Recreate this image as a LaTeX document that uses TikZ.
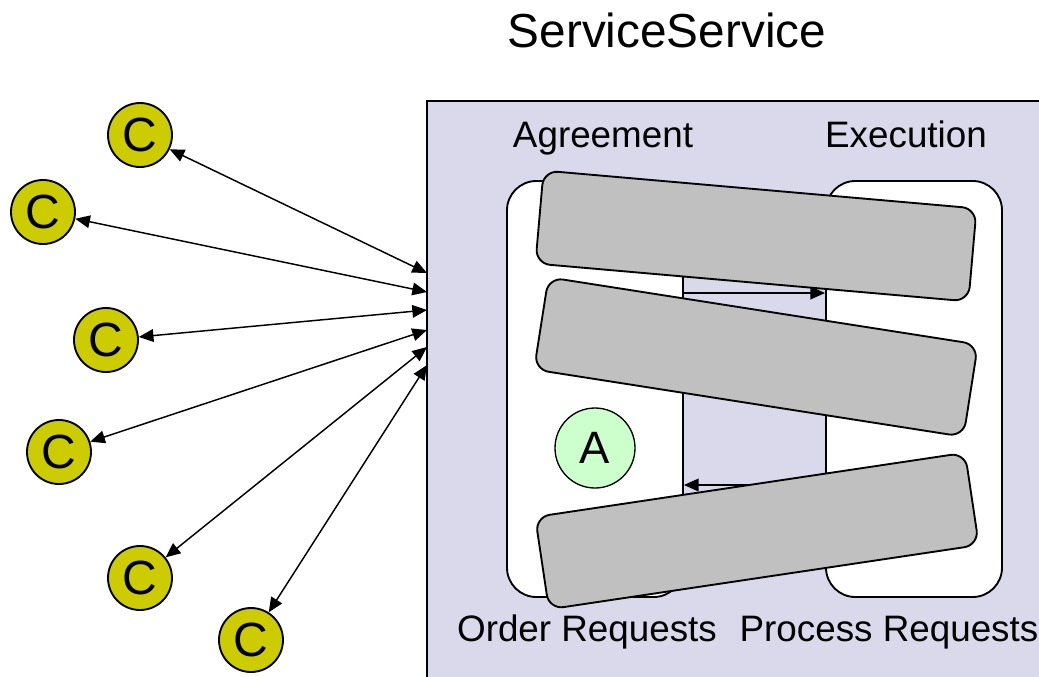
\documentclass[tikz,border=0pt]{standalone}
\usepackage{fontspec}
\setmainfont{Liberation Sans}
\usetikzlibrary{positioning, shapes, arrows.meta, calc}
\definecolor{mylav}{RGB}{217,217,235}
\definecolor{mygray}{RGB}{192,192,192}
\definecolor{myyellow}{RGB}{204,204,0}
\definecolor{mygreen}{RGB}{204,255,204}
\tikzset{
  client/.style={circle, draw, line width=1.4pt, fill=myyellow, inner sep=0,
    minimum size=48pt, font=\fontsize{36}{40}\selectfont},
  agent/.style={circle, draw, line width=1pt, fill=mygreen, inner sep=0,
    minimum size=60pt, font=\fontsize{34}{38}\selectfont},
  lane/.style={rectangle, draw, line width=1.4pt, fill=white, rounded corners=22pt,
    minimum width=132pt, minimum height=312pt},
  slab/.style={rectangle, draw, line width=1.4pt, fill=mygray, rounded corners=11pt,
    minimum width=326pt, minimum height=70pt},
  caption/.style={inner sep=0, anchor=base, font=\fontsize{27.6}{30}\selectfont},
  tip/.style={Triangle[length=11pt,width=9.5pt]},
  link/.style={{Triangle[length=11pt,width=9.5pt]}-{Triangle[length=11pt,width=9.5pt]}, line width=1.1pt}
}
\begin{document}
\begin{tikzpicture}[x=0.75pt, y=-0.75pt]
\clip (0,0) rectangle (1039,676);

\node [inner sep=0, anchor=base, font=\fontsize{35.8}{40}\selectfont] (title) at (667,47) {ServiceService};

\draw[line width=1.4pt, fill=mylav] (427,101) rectangle (1080,720);

\node [caption] (agree) at (603,147) {Agreement};
\node [caption] (exec) at (906,147) {Execution};

\node [lane] (agreeBox) at (595,389) {};
\node [lane] (execBox) at (914,389) {};

\draw[-{Triangle[length=11pt,width=9.5pt]}, line width=1.1pt] ([yshift=72pt]agreeBox.east) -- ([yshift=72pt]execBox.west);
\draw[-{Triangle[length=11pt,width=9.5pt]}, line width=1.1pt] ([yshift=-72pt]execBox.west) -- ([yshift=-72pt]agreeBox.east);

\node [agent] (a) at (595,448) {A};

\node [slab, rotate=-5] (slab1) at (756,236) {};
\node [slab, rotate=-8.9] (slab2) at (756,357) {};
\node [slab, rotate=8.5] (slab3) at (757,531) {};

\node [caption] (order) at (587,641) {Order Requests};
\node [caption] (process) at (889,641) {Process Requests};

% clients
\node [client] (c1) at (140,135) {C};
\node [client] (c2) at (43,212) {C};
\node [client] (c3) at (106,340) {C};
\node [client] (c4) at (59,452) {C};
\node [client] (c5) at (140,578) {C};
\node [client] (c6) at (251,640) {C};

\coordinate (p1) at (427,273);
\coordinate (p2) at (427,292);
\coordinate (p3) at (427,310);
\coordinate (p4) at (427,330);
\coordinate (p5) at (427,347);
\coordinate (p6) at (427,365);

\foreach \i in {1,...,6}
  \draw[link] (c\i) -- (p\i);

\end{tikzpicture}
\end{document}
